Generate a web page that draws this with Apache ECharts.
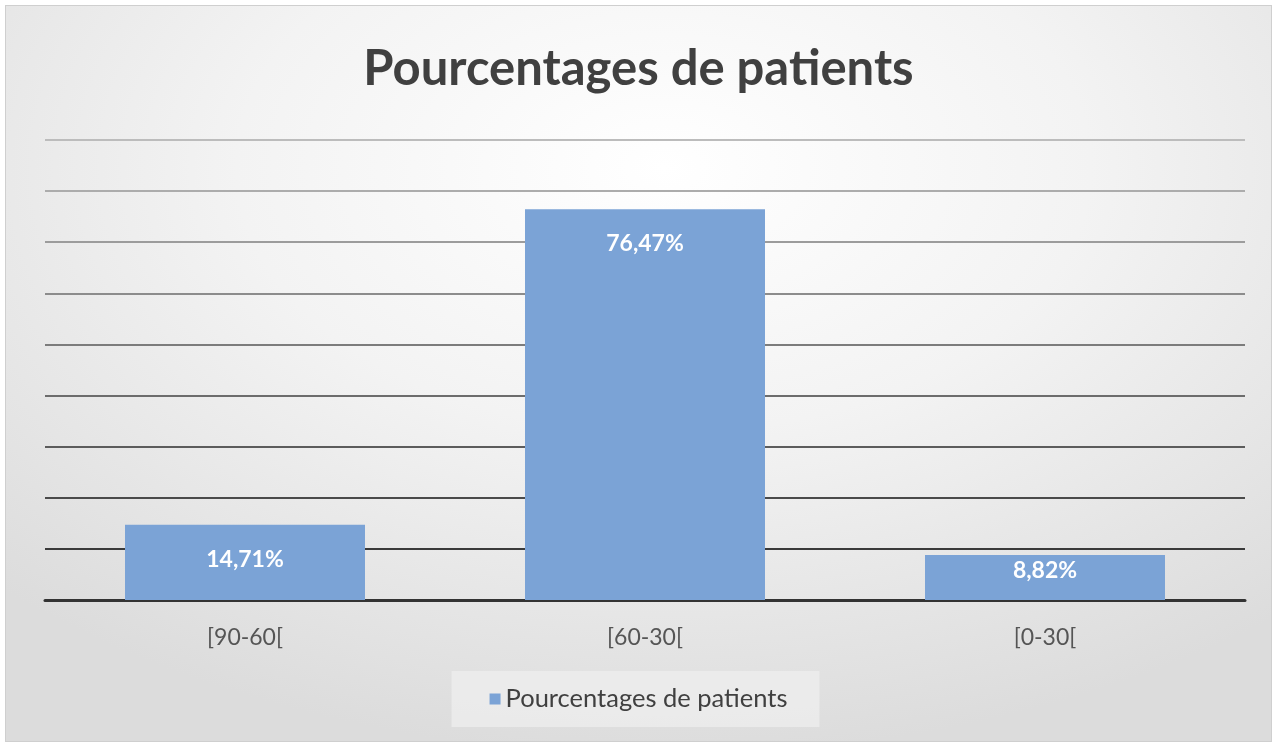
<!DOCTYPE html>
<html>
<head>
<meta charset="utf-8">
<script src="https://cdn.jsdelivr.net/npm/echarts@6/dist/echarts.min.js"></script>
<style>
  html, body { margin: 0; padding: 0; background: #fff; }
  #frame {
    position: absolute; left: 5px; top: 5px; width: 1265px; height: 735px;
    border: 1px solid #cfcfcf;
    background: radial-gradient(ellipse 75% 80% at 52% 22%, #ffffff 0%, #f3f3f3 45%, #dcdcdc 100%);
  }
  #chart { position: absolute; left: 0; top: 0; width: 1277px; height: 747px; }
</style>
</head>
<body>
<div id="frame"></div>
<div id="chart"></div>
<script>
// --- 数据 ---
const titleText = 'Pourcentages de patients'
const categories = ['[90-60[', '[60-30[', '[0-30[']
const values = [14.71, 76.47, 8.82]
const valueLabels = ['14,71%', '76,47%', '8,82%']
const labelDistances = [23, 23, 4]
// 网格线颜色：从 0 到 90，底部深、顶部浅
const gridColors = ['#3a3a3a', '#3a3a3a', '#4a4a4a', '#5c5c5c', '#6c6c6c', '#7c7c7c', '#8c8c8c', '#9c9c9c', '#acacac', '#bcbcbc']

const barColor = '#7ba3d6'
const fontFamily = 'Lato, "Open Sans", sans-serif'

const chart = echarts.init(document.getElementById('chart'))

const option = {
  backgroundColor: 'transparent',
  animation: false,
  title: {
    text: titleText,
    left: 'center',
    top: 40,
    textStyle: { fontFamily, fontSize: 49, fontWeight: 'bold', color: '#404040' }
  },
  legend: {
    bottom: 20,
    left: 'center',
    itemWidth: 11,
    itemHeight: 11,
    itemGap: 8,
    padding: [15, 32, 15, 38],
    backgroundColor: 'rgba(240,240,240,0.7)',
    textStyle: { fontFamily, fontSize: 25.5, color: '#404040' },
    data: [{ name: titleText, icon: 'rect' }]
  },
  grid: { left: 45, right: 32, top: 140, bottom: 147 },
  xAxis: {
    type: 'category',
    data: categories,
    axisTick: { show: false },
    axisLine: { lineStyle: { color: '#333', width: 3 } },
    axisLabel: { fontFamily, fontSize: 23, color: '#555', margin: 26 }
  },
  yAxis: {
    type: 'value',
    min: 0,
    max: 90,
    interval: 10,
    axisLabel: { show: false },
    axisLine: { show: false },
    axisTick: { show: false },
    splitLine: { lineStyle: { color: gridColors, width: 2 } }
  },
  series: [
    {
      name: titleText,
      type: 'bar',
      barWidth: '60%',
      itemStyle: { color: barColor },
      data: values.map((v, i) => ({
        value: v,
        label: {
          show: true,
          position: 'insideTop',
          distance: labelDistances[i],
          formatter: valueLabels[i],
          fontFamily,
          fontSize: 23,
          fontWeight: 'bold',
          color: '#fff'
        }
      }))
    }
  ]
}

chart.setOption(option)
</script>
</body>
</html>
